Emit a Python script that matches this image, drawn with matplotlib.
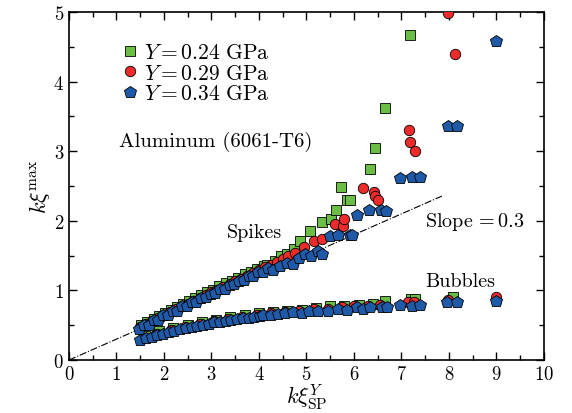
import matplotlib
matplotlib.use("Agg")
import matplotlib.pyplot as plt
from matplotlib.ticker import MultipleLocator

plt.rcParams['font.family'] = 'serif'
plt.rcParams['font.serif'] = ['cmr10']
plt.rcParams['mathtext.fontset'] = 'cm'
plt.rcParams['axes.unicode_minus'] = False
plt.rcParams['axes.formatter.use_mathtext'] = True

# ---- data: Y = 0.24 GPa (green squares) ----
g_sp_x = [1.52,1.65,1.78,1.90,2.03,2.15,2.28,2.40,2.53,2.66,2.78,2.90,3.03,3.16,3.30,3.43,3.56,3.70,3.83,3.96,
          4.10,4.16,4.34,4.47,4.60,4.73,4.87,5.08,5.33,5.52,5.62,5.73,5.85,5.92,6.34,6.44,6.65,7.18]
g_sp_y = [0.50,0.55,0.59,0.63,0.68,0.72,0.76,0.80,0.85,0.89,0.93,0.97,1.01,1.06,1.10,1.14,1.18,1.23,1.27,1.31,
          1.35,1.36,1.42,1.49,1.53,1.60,1.71,1.85,1.99,2.02,2.15,2.49,2.30,2.30,2.74,3.05,3.62,4.67]
g_bu_x = [1.60,1.90,2.20,2.50,2.80,3.10,3.40,3.70,4.00,4.30,4.60,4.90,5.20,5.50,5.80,6.10,6.40,6.65,7.20,7.28,8.09]
g_bu_y = [0.35,0.41,0.46,0.51,0.55,0.58,0.62,0.64,0.67,0.69,0.71,0.72,0.75,0.77,0.78,0.79,0.81,0.85,0.87,0.88,0.91]

# ---- data: Y = 0.29 GPa (red circles) ----
r_sp_x = [1.50,1.62,1.75,1.88,2.00,2.12,2.25,2.38,2.50,2.62,2.75,2.88,3.00,3.12,3.25,3.38,3.50,3.62,3.75,3.88,
          4.00,4.12,4.25,4.38,4.50,4.62,4.75,4.95,5.16,5.33,5.60,5.76,5.79,6.20,6.43,6.45,6.50,7.15,7.18,7.28,7.97,8.12]
r_sp_y = [0.48,0.52,0.56,0.61,0.65,0.69,0.73,0.77,0.81,0.85,0.89,0.93,0.97,1.01,1.05,1.09,1.13,1.17,1.21,1.25,
          1.29,1.33,1.37,1.41,1.45,1.49,1.54,1.62,1.71,1.74,1.95,1.92,2.02,2.47,2.42,2.36,2.30,3.30,3.13,3.01,4.98,4.40]
r_bu_x = [1.55,1.85,2.15,2.45,2.75,3.05,3.35,3.65,3.95,4.25,4.55,4.85,5.15,5.45,5.75,6.00,6.30,6.55,7.13,7.27,7.99,9.00]
r_bu_y = [0.32,0.38,0.43,0.48,0.52,0.56,0.59,0.62,0.65,0.67,0.69,0.70,0.73,0.74,0.76,0.77,0.78,0.79,0.83,0.84,0.86,0.90]

# ---- data: Y = 0.34 GPa (blue pentagons) ----
b_sp_x = [1.48,1.58,1.68,1.78,1.88,1.98,2.08,2.18,2.28,2.38,2.48,2.58,2.68,2.78,2.88,2.98,3.08,3.18,3.28,3.38,
          3.48,3.58,3.68,3.78,3.88,3.98,4.08,4.18,4.30,4.44,4.58,4.72,4.85,4.97,5.10,5.25,5.32,5.49,5.67,5.92,
          5.95,6.06,6.32,6.56,6.67,6.97,7.23,7.40,7.97,8.17,9.00]
b_sp_y = [0.45,0.50,0.51,0.57,0.58,0.64,0.65,0.70,0.71,0.77,0.77,0.83,0.83,0.89,0.90,0.95,0.96,1.02,1.02,1.08,
          1.09,1.14,1.15,1.21,1.21,1.27,1.27,1.32,1.30,1.35,1.40,1.38,1.47,1.53,1.50,1.57,1.53,1.78,1.80,1.80,
          1.80,2.09,2.15,2.15,2.14,2.61,2.63,2.63,3.36,3.36,4.59]
b_bu_x = [1.50,1.62,1.74,1.86,1.98,2.10,2.22,2.34,2.46,2.58,2.70,2.82,2.94,3.06,3.18,3.30,3.42,3.54,3.66,3.78,
          3.90,4.02,4.09,4.25,4.40,4.55,4.72,4.90,5.05,5.25,5.45,5.67,5.85,6.06,6.20,6.34,6.58,6.69,6.97,7.23,
          7.38,7.95,8.17,9.00]
b_bu_y = [0.29,0.31,0.33,0.36,0.38,0.40,0.42,0.44,0.46,0.47,0.49,0.51,0.52,0.54,0.55,0.56,0.58,0.59,0.60,0.61,
          0.62,0.63,0.64,0.64,0.66,0.67,0.69,0.68,0.70,0.71,0.71,0.73,0.72,0.76,0.74,0.76,0.76,0.76,0.79,0.78,
          0.79,0.83,0.83,0.85]

slope = 0.3
slope_x = [0.0, 7.85]

labels = [r'$Y = 0.24\ \mathrm{GPa}$', r'$Y = 0.29\ \mathrm{GPa}$', r'$Y = 0.34\ \mathrm{GPa}$']
green, red, blue = '#6bbd45', '#ee2b2b', '#1f5aa8'

fig = plt.figure(figsize=(5.72, 4.14), dpi=100)
ax = fig.add_axes([0.1206, 0.128, 0.8304, 0.8406])

ax.plot(slope_x, [slope * v for v in slope_x], color='black', lw=0.8, ls='-.', zorder=1)

kw = dict(ls='none', mec='black', mew=0.6)
ax.plot(g_sp_x + g_bu_x, g_sp_y + g_bu_y, marker='s', ms=6.5, mfc=green, label=labels[0], zorder=2, **kw)
ax.plot(r_sp_x + r_bu_x, r_sp_y + r_bu_y, marker='o', ms=7.5, mfc=red, label=labels[1], zorder=3, **kw)
ax.plot(b_sp_x + b_bu_x, b_sp_y + b_bu_y, marker='p', ms=9, mfc=blue, label=labels[2], zorder=4, **kw)

ax.set_xlim(0, 10)
ax.set_ylim(0, 5)
ax.xaxis.set_major_locator(MultipleLocator(1))
ax.xaxis.set_minor_locator(MultipleLocator(0.5))
ax.yaxis.set_major_locator(MultipleLocator(1))
ax.yaxis.set_minor_locator(MultipleLocator(0.5))
ax.tick_params(which='both', direction='in', top=True, right=True, labelsize=13.5, width=1.0)
ax.tick_params(which='major', length=6)
ax.tick_params(which='minor', length=3.5)
for s in ax.spines.values():
    s.set_linewidth(1.2)

ax.set_xlabel(r'$k\xi^{Y}_{\rm SP}$', fontsize=16, labelpad=-1)
ax.set_ylabel(r'$k\xi^{\max}$', fontsize=16, labelpad=1)

ax.text(1.05, 3.15, 'Aluminum (6061-T6)', fontsize=15, va='center', ha='left')
ax.text(3.33, 1.84, 'Spikes', fontsize=14.5, va='center', ha='left')
ax.text(7.5, 2.0, r'Slope$\,=0.3$', fontsize=14.5, va='center', ha='left')
ax.text(7.5, 1.13, 'Bubbles', fontsize=14.5, va='center', ha='left')

ax.legend(loc='upper left', bbox_to_anchor=(0.07, 0.955), frameon=False, fontsize=15.5,
          handletextpad=0.05, labelspacing=0.05, handlelength=1.2, borderaxespad=0.3)

fig.savefig('out.png', dpi=100)
